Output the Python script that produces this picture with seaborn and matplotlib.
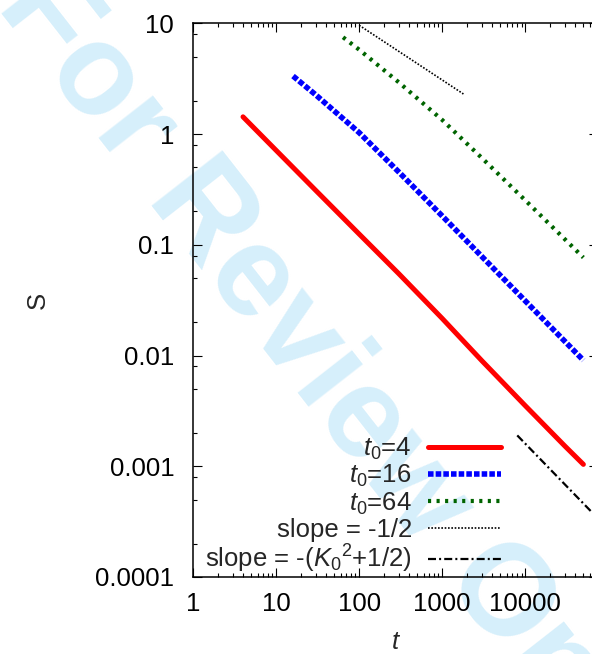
import matplotlib
matplotlib.use("Agg")
import matplotlib.pyplot as plt
import matplotlib.ticker as mticker
import seaborn as sns
import pandas as pd

# ---- data ----
t_t0_4 = [4, 10, 30, 100, 300, 1000, 3000, 10000, 30000, 50000]
S_t0_4 = [1.43, 0.713, 0.310, 0.125, 0.0548, 0.0216, 0.00897, 0.00352, 0.00152, 0.00104]

t_t0_16 = [16, 30, 100, 300, 1000, 3000, 10000, 30000, 50000]
S_t0_16 = [3.34, 2.26, 1.03, 0.454, 0.182, 0.0783, 0.0311, 0.0134, 0.00906]

t_t0_64 = [64, 100, 300, 1000, 3000, 10000, 30000, 50000]
S_t0_64 = [7.48, 5.78, 2.93, 1.34, 0.608, 0.252, 0.112, 0.0767]

t_slope_half = [100, 1800]
S_slope_half = [9.6, 2.3]

t_slope_K = [8000, 100000]
S_slope_K = [0.0019, 0.00027]

labels = [r"$t_0$=4", r"$t_0$=16", r"$t_0$=64", "slope = -1/2",
          r"slope = -($K_0{}^2$+1/2)"]
x_ticks = [1, 10, 100, 1000, 10000]
y_ticks = [0.0001, 0.001, 0.01, 0.1, 1, 10]

# ---- style ----
sns.set_style("ticks")
plt.rcParams["font.family"] = ["Liberation Sans", "DejaVu Sans"]
plt.rcParams["mathtext.fontset"] = "custom"
plt.rcParams["mathtext.rm"] = "Liberation Sans"
plt.rcParams["mathtext.it"] = "Liberation Sans:italic"
plt.rcParams["lines.dash_capstyle"] = "butt"

FS = 18.5

fig = plt.figure(figsize=(5.92, 6.54), dpi=100)
fig.patch.set_facecolor("white")

# watermark behind everything
fig.text(0.563, 0.412, "For Review Only", ha="center", va="center",
         rotation=-52, fontsize=93, fontweight="bold", color="#d6effb",
         zorder=-1, family="Liberation Sans")

ax = fig.add_axes([193 / 592, 77 / 654, 405 / 592, 553.7 / 654])
ax.set_facecolor("none")

# (dash patterns are in units of line width)
series = [
    (t_t0_4, S_t0_4, "#ff0000", 3.6, None),
    (t_t0_16, S_t0_16, "#0000ff", 4.0, (1.0, 0.38)),
    (t_t0_64, S_t0_64, "#006400", 3.0, (0.75, 1.3)),
    (t_slope_half, S_slope_half, "#000000", 1.2, (1.0, 1.0)),
    (t_slope_K, S_slope_K, "#000000", 1.6, (3.6, 1.4, 0.9, 1.4)),
]

handles = []
for (tx, sy, col, lw, dash), lab in zip(series, labels):
    df = pd.DataFrame({"t": tx, "S": sy})
    sns.lineplot(data=df, x="t", y="S", ax=ax, color=col, linewidth=lw,
                 estimator=None, sort=False, legend=False)
    line = ax.lines[-1]
    if dash is not None:
        line.set_dashes(list(dash))
    line.set_label(lab)
    handles.append(line)

ax.set_xscale("log")
ax.set_yscale("log")
ax.set_xlim(1, 7.5e4)
ax.set_ylim(1e-4, 10)

ax.xaxis.set_major_locator(mticker.FixedLocator(x_ticks))
ax.yaxis.set_major_locator(mticker.FixedLocator(y_ticks))
fmt = mticker.FuncFormatter(lambda v, p: "%g" % v)
ax.xaxis.set_major_formatter(fmt)
ax.yaxis.set_major_formatter(fmt)
ax.xaxis.set_minor_locator(mticker.LogLocator(base=10, subs=range(2, 10), numticks=20))
ax.yaxis.set_minor_locator(mticker.LogLocator(base=10, subs=(2, 5, 8), numticks=20))
ax.xaxis.set_minor_formatter(mticker.NullFormatter())
ax.yaxis.set_minor_formatter(mticker.NullFormatter())

ax.tick_params(which="both", direction="in", top=True, right=True,
               width=0.8, colors="black", labelsize=FS)
ax.tick_params(which="major", length=6.5)
ax.tick_params(which="minor", length=3.2)
ax.tick_params(axis="y", pad=13.5)
ax.tick_params(axis="x", pad=10.5)
for sp in ax.spines.values():
    sp.set_linewidth(1.1)
    sp.set_color("black")

ax.set_xlabel("t", fontsize=FS, fontstyle="italic")
ax.set_ylabel("S", fontsize=FS)
ax.xaxis.set_label_coords(0.5, -0.096)
ax.yaxis.set_label_coords(-0.353, 0.5)

leg = ax.legend(handles=handles, labels=labels, loc="upper right",
                bbox_to_anchor=((501 - 193) / 405, (577 - 436) / 553.7),
                frameon=False, markerfirst=False, fontsize=FS,
                handlelength=2.85, handletextpad=0.62, labelspacing=0.04,
                borderpad=0, borderaxespad=0)

fig.savefig("out.png", dpi=100)
